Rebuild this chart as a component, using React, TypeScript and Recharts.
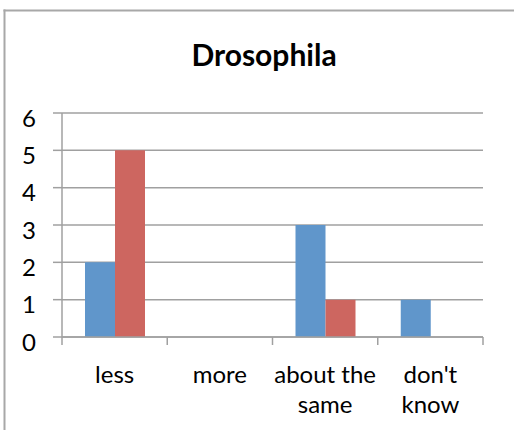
import React from 'react';
import { BarChart, Bar, XAxis, YAxis, CartesianGrid } from 'recharts';

const categories = ['less', 'more', 'about the same', "don't know"];
const seriesBlue = [2, 0, 3, 1];
const seriesRed = [5, 0, 1, 0];
const yTicks = [0, 1, 2, 3, 4, 5, 6];
const title = 'Drosophila';

const data = categories.map((c, i) => ({ category: c, blue: seriesBlue[i], red: seriesRed[i] }));

const FONT = 'Lato, "Open Sans", sans-serif';
const AXIS = '#a0a0a0';
const BLUE = '#6096cb';
const RED = '#cd6660';
const TICK_FONT_SIZE = 24;

if (typeof document !== 'undefined') {
  document.documentElement.style.overflow = 'hidden';
  document.body.style.overflow = 'hidden';
}

let ctx: CanvasRenderingContext2D | null = null;
function measure(s: string): number {
  if (!ctx) {
    const c = document.createElement('canvas');
    ctx = c.getContext('2d');
  }
  if (!ctx) return s.length * TICK_FONT_SIZE * 0.5;
  ctx.font = `${TICK_FONT_SIZE}px Lato`;
  return ctx.measureText(s).width;
}

function wrap(label: string, maxW: number): string[] {
  const words = label.split(' ');
  const lines: string[] = [];
  let cur = '';
  for (const w of words) {
    const t = cur ? cur + ' ' + w : w;
    if (cur && measure(t) > maxW) {
      lines.push(cur);
      cur = w;
    } else {
      cur = t;
    }
  }
  if (cur) lines.push(cur);
  return lines;
}

function XTick(props: any) {
  const { x, y, payload, index, visibleTicksCount } = props;
  const half = payload && payload.offset ? payload.offset : 52.6;
  const last = index === (visibleTicksCount ?? categories.length) - 1;
  const lines = wrap(String(payload.value), half * 2 + 2);
  return (
    <g>
      <line x1={x - half} y1={y} x2={x - half} y2={y + 8} stroke={AXIS} strokeWidth={1.5} />
      {last && <line x1={x + half} y1={y} x2={x + half} y2={y + 8} stroke={AXIS} strokeWidth={1.5} />}
      <text x={x} y={y + 46} textAnchor="middle" style={{ fontFamily: FONT, fontSize: TICK_FONT_SIZE, fill: '#000' }}>
        {lines.map((l, i) => (
          <tspan key={i} x={x} dy={i === 0 ? 0 : 30}>
            {l}
          </tspan>
        ))}
      </text>
    </g>
  );
}

export default function App() {
  return (
    <div style={{ position: 'fixed', left: 0, top: 0, width: 514, height: 430, overflow: 'hidden', background: '#fff' }}>
      <svg style={{ position: 'absolute', left: 0, top: 0 }} width={514} height={430}>
        <line x1={4.5} y1={430} x2={4.5} y2={9.5} stroke="#a8a8a8" strokeWidth={2} />
        <line x1={3.5} y1={10.5} x2={514} y2={10.5} stroke="#a8a8a8" strokeWidth={2} />
        <text x={264} y={66} textAnchor="middle" style={{ fontFamily: FONT, fontSize: 30, fontWeight: 700, fill: '#000' }}>
          {title}
        </text>
      </svg>
      <div style={{ position: 'absolute', left: 0, top: 0 }}>
        <BarChart width={514} height={430} data={data} margin={{ top: 113, right: 31, bottom: 13, left: 0 }} barGap={0}>
          <CartesianGrid vertical={false} stroke={AXIS} strokeWidth={1.5} />
          <XAxis
            dataKey="category"
            height={80}
            axisLine={{ stroke: AXIS, strokeWidth: 1.5 }}
            tickLine={false}
            tickSize={0}
            tickMargin={0}
            interval={0}
            tick={<XTick />}
          />
          <YAxis
            width={62}
            domain={[0, 6]}
            ticks={yTicks}
            interval={0}
            axisLine={{ stroke: AXIS, strokeWidth: 1.5 }}
            tickLine={{ stroke: AXIS, strokeWidth: 1.5 }}
            tickSize={9}
            tickMargin={17}
            tick={{ fontFamily: FONT, fontSize: TICK_FONT_SIZE, fill: '#000', dy: 5 }}
          />
          <Bar dataKey="blue" fill={BLUE} barSize={30} isAnimationActive={false} />
          <Bar dataKey="red" fill={RED} barSize={30} isAnimationActive={false} />
        </BarChart>
      </div>
    </div>
  );
}
